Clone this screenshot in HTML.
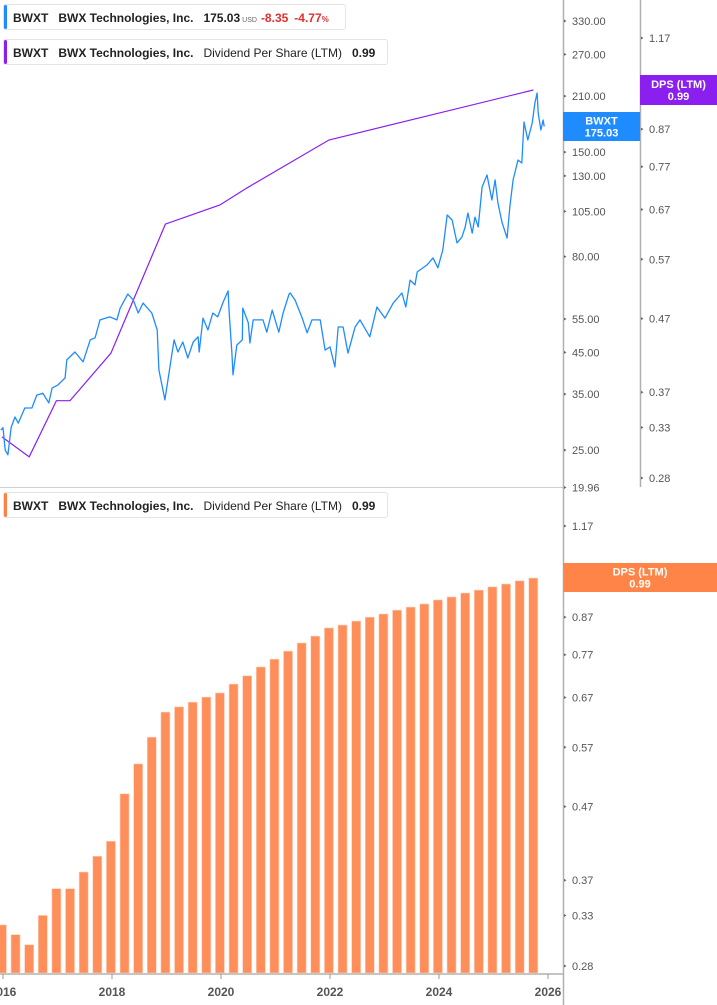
<!DOCTYPE html>
<html><head><meta charset="utf-8">
<style>
body{margin:0;width:717px;height:1005px;background:#fff;font-family:"Liberation Sans",sans-serif;overflow:hidden;position:relative}
.leg{position:absolute;left:3px;height:26px;border:1px solid #e4e4e4;border-radius:3px;background:#fff;font-size:12px;font-weight:bold;color:#222;line-height:26px;white-space:nowrap;padding-left:9px;box-sizing:border-box}
.leg .bar{position:absolute;left:0;top:0;bottom:0;width:3px;border-radius:2px}
.leg span{margin-right:10px}
svg{position:absolute;left:0;top:0}
</style></head><body>
<svg id="chart" width="717" height="1005"></svg>
<div class="leg" style="top:4px;width:343px"><div class="bar" style="background:#1e8cff"></div><span>BWXT</span><span>BWX Technologies, Inc.</span><span style="margin-right:4px">175.03<small style="font-size:7px;color:#666;font-weight:normal;margin-left:2px">USD</small></span><span style="color:#e03030;margin-right:6px">-8.35</span><span style="color:#e03030">-4.77<small style="font-size:8px">%</small></span></div>
<div class="leg" style="top:39px;width:385px"><div class="bar" style="background:#8a1ff0"></div><span>BWXT</span><span>BWX Technologies, Inc.</span><span style="font-weight:normal">Dividend Per Share (LTM)</span><span>0.99</span></div>
<div class="leg" style="top:492px;width:385px"><div class="bar" style="background:#ff8040"></div><span>BWXT</span><span>BWX Technologies, Inc.</span><span style="font-weight:normal">Dividend Per Share (LTM)</span><span>0.99</span></div>
<script>
const priceDates=[2015.96,2016.00,2016.04,2016.09,2016.15,2016.22,2016.28,2016.40,2016.53,2016.62,2016.73,2016.84,2016.90,2017.01,2017.14,2017.17,2017.32,2017.47,2017.60,2017.69,2017.78,2017.96,2018.09,2018.15,2018.29,2018.39,2018.48,2018.57,2018.73,2018.83,2018.86,2018.97,2019.06,2019.14,2019.21,2019.30,2019.39,2019.49,2019.58,2019.60,2019.67,2019.76,2019.85,2019.94,2020.04,2020.13,2020.15,2020.20,2020.22,2020.29,2020.39,2020.40,2020.50,2020.53,2020.59,2020.77,2020.84,2020.94,2021.06,2021.14,2021.25,2021.27,2021.36,2021.49,2021.58,2021.67,2021.82,2021.91,2022.00,2022.09,2022.15,2022.24,2022.33,2022.46,2022.55,2022.73,2022.86,2023.01,2023.16,2023.32,2023.39,2023.47,2023.56,2023.60,2023.78,2023.89,2023.98,2024.07,2024.15,2024.24,2024.33,2024.42,2024.48,2024.53,2024.61,2024.66,2024.72,2024.79,2024.88,2024.97,2025.03,2025.08,2025.16,2025.25,2025.30,2025.36,2025.45,2025.52,2025.56,2025.63,2025.71,2025.76,2025.80,2025.82,2025.87,2025.91,2025.93];
const priceValues=[28.2,28.6,25.0,24.3,28.7,30.5,29.4,32.2,32.2,34.8,35.2,33.2,36.3,37.0,38.6,43.0,45.1,42.5,48.5,49.1,54.7,55.7,54.7,58.7,63.9,61.6,57.0,60.5,57.0,51.5,40.5,33.8,41.0,48.5,45.1,47.9,43.5,47.9,49.4,45.1,55.3,51.5,57.0,55.7,60.9,65.1,57.0,44.8,39.3,47.0,48.5,58.7,53.7,47.6,54.7,54.7,50.8,58.0,50.8,57.0,63.9,64.3,61.6,55.3,50.6,54.7,54.7,45.6,46.5,41.2,52.4,52.4,44.8,52.4,54.7,49.4,59.1,55.3,60.5,64.3,59.1,69.5,67.5,73.0,76.1,79.4,74.8,83.3,102.8,99.7,86.9,90.0,95.6,104.0,92.2,101.5,95.6,121.6,130.7,112.5,126.9,110.5,97.9,89.5,107.8,126.9,143.1,140.5,179.8,161.3,178.7,201.6,214.0,189.8,171.3,182.0,175.03];
const dpsDates=[2015.98,2016.23,2016.48,2016.73,2016.98,2017.23,2017.48,2017.73,2017.98,2018.23,2018.48,2018.73,2018.98,2019.23,2019.48,2019.73,2019.98,2020.23,2020.48,2020.73,2020.98,2021.23,2021.48,2021.73,2021.98,2022.23,2022.48,2022.73,2022.98,2023.23,2023.48,2023.73,2023.98,2024.23,2024.48,2024.73,2024.98,2025.23,2025.48,2025.73];
const dpsValues=[0.320,0.310,0.300,0.330,0.360,0.360,0.380,0.400,0.420,0.490,0.540,0.589,0.639,0.650,0.660,0.671,0.680,0.700,0.719,0.740,0.759,0.779,0.800,0.818,0.840,0.848,0.859,0.870,0.879,0.890,0.899,0.908,0.920,0.929,0.941,0.950,0.960,0.969,0.979,0.988];
const dpsLineIdx=[0,2,4,5,8,12,16,18,24,39];
const priceTicks=["330.00","270.00","210.00","150.00","130.00","105.00","80.00","55.00","45.00","35.00","25.00","19.96"];
const dpsTicks=["1.17","0.87","0.77","0.67","0.57","0.47","0.37","0.33","0.28"];
const yearTicks=[2016,2018,2020,2022,2024,2026];

const NS="http://www.w3.org/2000/svg";
const svg=document.getElementById('chart');
function mk(tag,attrs,parent){const e=document.createElementNS(NS,tag);for(const k in attrs)e.setAttribute(k,attrs[k]);(parent||svg).appendChild(e);return e;}
const xS=y=>3+(y-2016)*54.5;
const priceY=v=>21+(Math.log(330)-Math.log(v))*166.3;
const dpsTopY=v=>38+(Math.log(1.17)-Math.log(v))*307.7;
const dpsBotY=v=>526+(Math.log(1.17)-Math.log(v))*307.7;

let e;
e=mk('line',{x1:0,y1:487.5,x2:563,y2:487.5,stroke:'#d0d0d0','stroke-width':1});


e=mk('line',{x1:563.5,y1:0,x2:563.5,y2:1005,stroke:'#b0b0b0','stroke-width':1.5});


e=mk('line',{x1:640.5,y1:0,x2:640.5,y2:487,stroke:'#b0b0b0','stroke-width':1.5});


e=mk('line',{x1:0,y1:974,x2:563,y2:974,stroke:'#b0b0b0','stroke-width':1.5});



dpsValues.forEach((v,i)=>{
  const x=xS(dpsDates[i]);const y=dpsBotY(v);
  const r=mk('rect',{x:x-4.5,y:y,width:9,height:973-y,fill:'#ff8f5a',stroke:'#ffd0b8','stroke-width':0.6});
  
  
});

const pl=dpsLineIdx.map(i=>xS(dpsDates[i]).toFixed(1)+','+dpsTopY(dpsValues[i]).toFixed(1)).join(' ');
e=mk('polyline',{points:pl,fill:'none',stroke:'#8a1ff0','stroke-width':1.2});



const pp=priceDates.map((d,i)=>xS(d).toFixed(1)+','+priceY(priceValues[i]).toFixed(1)).join(' ');
e=mk('polyline',{points:pp,fill:'none',stroke:'#1e8cff','stroke-width':1.3,'stroke-linejoin':'round'});



function tick(x,y,label,name){
  const t=mk('text',{x:x+8,y:y+4,'font-size':11,fill:'#555','font-family':'Liberation Sans, sans-serif'});
  t.textContent=label;
  
  
  mk('path',{d:`M${x} ${y-1.5}L${x+2.5} ${y}L${x} ${y+1.5}Z`,fill:'#666'});
}
priceTicks.forEach(l=>tick(564,priceY(parseFloat(l)),l,'price-tick-label'));
dpsTicks.forEach(l=>tick(641,dpsTopY(parseFloat(l)),l,'dps-tick-label'));
dpsTicks.forEach(l=>tick(564,dpsBotY(parseFloat(l)),l,'dps-bar-tick-label'));

yearTicks.forEach(yr=>{
  const x=xS(yr);
  mk('line',{x1:x,y1:974,x2:x,y2:979,stroke:'#999','stroke-width':1});
  const t=mk('text',{x:x,y:996,'font-size':12,'font-weight':'bold',fill:'#555','text-anchor':'middle','font-family':'Liberation Sans, sans-serif'});
  t.textContent=yr;
  
  
});

function box(x,y,w,h,fill,l1,l2,name){
  const g=mk('g',{});
  
  
  mk('rect',{x:x,y:y,width:w,height:h,fill:fill},g);
  const cx=x+w/2;
  const a=mk('text',{x:cx,y:y+h/2-2,'font-size':11,'font-weight':'bold',fill:'#fff','text-anchor':'middle','font-family':'Liberation Sans, sans-serif'},g);a.textContent=l1;
  const b=mk('text',{x:cx,y:y+h/2+10,'font-size':11,'font-weight':'bold',fill:'#fff','text-anchor':'middle','font-family':'Liberation Sans, sans-serif'},g);b.textContent=l2;
}
box(563,112,77,29,'#1e8cff','BWXT','175.03','price-value-label');
box(640,75,77,30,'#8a1ff0','DPS (LTM)','0.99','dps-value-label');
box(563,563,154,29,'#ff8447','DPS (LTM)','0.99','dps-bar-value-label');
</script>
</body></html>
